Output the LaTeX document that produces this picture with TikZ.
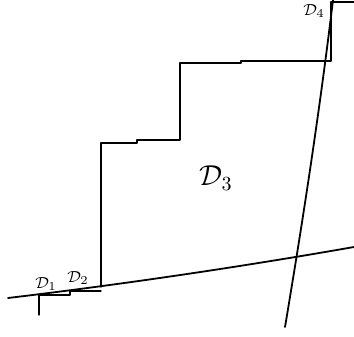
\documentclass[tikz,border=0pt]{standalone}
\begin{document}
\begin{tikzpicture}[x=0.5pt, y=-0.5pt, line join=round, line cap=round,
		region/.style={inner sep=0pt, font=\footnotesize},
		boundary/.style={line width=0.9pt},
		stairs/.style={line width=0.6pt}]
			\useasboundingbox (0,0) rectangle (354,337);
			% curves
			\coordinate (cL) at (8,298);
			\coordinate (cR) at (354,247);
			\coordinate (vB) at (285,327);
			\coordinate (vT) at (333,0);
			\draw[boundary] (cL) .. controls (123.3,284.2) and (238.7,267.2) .. (cR);
			\draw[boundary] (vB) .. controls (303.3,218) and (319.9,109) .. (vT);
			% staircases
			\coordinate (s1) at (39,315);
			\coordinate (s2) at (101,287);
			\coordinate (s3) at (331,2);
			\draw[stairs] (s1) -- (39,295) -- (70,295) -- (70,291) -- (101,291);
			\draw[stairs] (s2) -- (101,143) -- (137,143) -- (137,140) -- (180,140) -- (180,63)
				-- (241,63) -- (241,61) -- (331,61) -- (s3) -- (354,2);
			% labels
			\node[region] (d1) at (46,284) {$\mathcal{D}_1$};
			\node[region] (d2) at (78,278) {$\mathcal{D}_2$};
			\node[region, font=\Large] (d3) at (216,178) {$\mathcal{D}_3$};
			\node[region] (d4) at (314,11) {$\mathcal{D}_4$};
		\end{tikzpicture}
\end{document}
